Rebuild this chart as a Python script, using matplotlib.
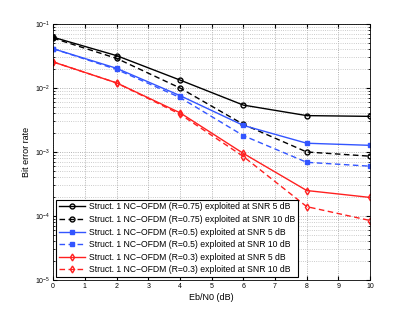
import matplotlib
matplotlib.use("Agg")
import matplotlib.pyplot as plt
from matplotlib.ticker import LogLocator, MultipleLocator, NullFormatter

plt.rcParams['font.family'] = ['Liberation Sans', 'DejaVu Sans']

ebn0 = [0, 2, 4, 6, 8, 10]
ber_075_5 = [0.062, 0.032, 0.0133, 0.0054, 0.0037, 0.0036]
ber_075_10 = [0.060, 0.029, 0.010, 0.0027, 0.0010, 0.00086]
ber_05_5 = [0.041, 0.0203, 0.0076, 0.0026, 0.00137, 0.00127]
ber_05_10 = [0.041, 0.0195, 0.0071, 0.0018, 0.00069, 0.00060]
ber_03_5 = [0.0255, 0.012, 0.0041, 0.00095, 0.00025, 0.000195]
ber_03_10 = [0.0255, 0.012, 0.0039, 0.00085, 0.00014, 0.000085]
labels = [
    "Struct. 1 NC\u2212OFDM (R=0.75) exploited at SNR 5 dB",
    "Struct. 1 NC\u2212OFDM (R=0.75) exploited at SNR 10 dB",
    "Struct. 1 NC\u2212OFDM (R=0.5) exploited at SNR 5 dB",
    "Struct. 1 NC\u2212OFDM (R=0.5) exploited at SNR 10 dB",
    "Struct. 1 NC\u2212OFDM (R=0.3) exploited at SNR 5 dB",
    "Struct. 1 NC\u2212OFDM (R=0.3) exploited at SNR 10 dB",
]

fig = plt.figure(figsize=(4.09, 3.15), dpi=100)
ax = fig.add_axes([0.130, 0.111, 0.775, 0.813])

series = [
    (ber_075_5, 'k', '-', 'o', 'none'),
    (ber_075_10, 'k', '--', 'o', 'none'),
    (ber_05_5, '#3355ff', '-', 's', '#3355ff'),
    (ber_05_10, '#3355ff', '--', 's', '#3355ff'),
    (ber_03_5, '#ff2020', '-', 'd', 'none'),
    (ber_03_10, '#ff2020', '--', 'd', 'none'),
]
for (y, c, ls, m, mfc), lab in zip(series, labels):
    line, = ax.semilogy(ebn0, y, color=c, linestyle=ls, marker=m, markersize=3.5,
                        markerfacecolor=mfc, markeredgewidth=1.0, linewidth=1.0, label=lab)
    if ls == '--':
        line.set_dashes([4, 2.5])

ax.set_xlim(0, 10)
ax.set_ylim(1e-5, 1e-1)
ax.xaxis.set_major_locator(MultipleLocator(1))
ax.yaxis.set_major_locator(LogLocator(base=10, numticks=10))
ax.yaxis.set_minor_locator(LogLocator(base=10, subs=range(2, 10), numticks=20))
ax.yaxis.set_minor_formatter(NullFormatter())
ax.grid(True, which='major', linestyle=':', color='#999999', linewidth=0.6)
ax.grid(True, which='minor', axis='y', linestyle=':', color='#bbbbbb', linewidth=0.6)
ax.tick_params(which='both', direction='in', top=True, right=True, labelsize=5, pad=2)
ax.tick_params(which='major', length=3)
ax.tick_params(which='minor', length=1.5)
for s in ax.spines.values():
    s.set_linewidth(0.6)

ax.set_xlabel("Eb/N0 (dB)", fontsize=6.5, labelpad=2)
ax.set_ylabel("Bit error rate", fontsize=6.5, labelpad=3)

leg = ax.legend(loc='lower left', fontsize=6.2, frameon=True, fancybox=False,
                edgecolor='k', framealpha=1, borderaxespad=0.35, handlelength=3,
                labelspacing=0.42, borderpad=0.3, handletextpad=0.5)
leg.get_frame().set_linewidth(0.8)

fig.savefig("out.png", dpi=100)
